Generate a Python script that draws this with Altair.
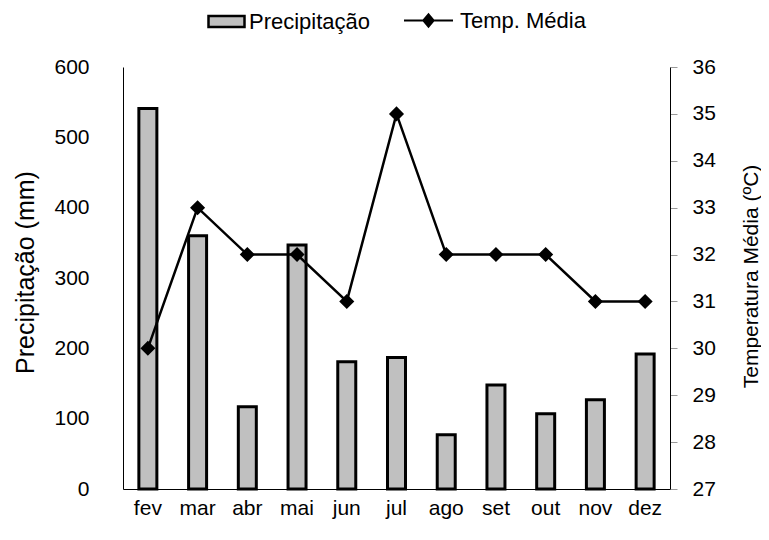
import altair as alt
import pandas as pd

meses = ["fev", "mar", "abr", "mai", "jun", "jul", "ago", "set", "out", "nov", "dez"]
precipitacao = [541, 360, 117, 347, 181, 187, 77, 148, 107, 127, 192]
temperatura = [30, 33, 32, 32, 31, 35, 32, 32, 32, 31, 31]
ticks_prec = [0, 100, 200, 300, 400, 500, 600]
ticks_temp = [27, 28, 29, 30, 31, 32, 33, 34, 35, 36]

df = pd.DataFrame({
    "mes": meses,
    "prec": precipitacao,
    "temp": temperatura,
    "s1": ["Precipitação"] * len(meses),
    "s2": ["Temp. Média"] * len(meses),
})

FONT = "Liberation Sans"
FS = 21

x_enc = alt.X(
    "mes:N", sort=meses, title=None,
    scale=alt.Scale(paddingInner=0, paddingOuter=0),
    axis=alt.Axis(labelAngle=0, ticks=False, domainColor="black", domainWidth=1,
                  labelFontSize=FS, labelPadding=8, labelColor="black"),
)

bars = alt.Chart(df).mark_bar(size=18, stroke="black", strokeWidth=3).encode(
    x=x_enc,
    y=alt.Y(
        "prec:Q",
        scale=alt.Scale(domain=[0, 600], nice=False, zero=True),
        axis=alt.Axis(orient="left", values=ticks_prec, ticks=False, grid=False,
                      domainColor="black", labelFontSize=FS, labelPadding=34,
                      labelColor="black",
                      title="Precipitação (mm)", titleFontSize=25, titleFontWeight="normal",
                      titleColor="black", titleAngle=270, titleBaseline="top",
                      titleAlign="center", titleX=-110, titleY=205),
    ),
    fill=alt.Fill(
        "s1:N",
        scale=alt.Scale(domain=["Precipitação"], range=["#c0c0c0"]),
        legend=alt.Legend(
            title=None, orient="none", legendX=84, legendY=-65,
            symbolType="M-1,-0.3H1V0.3H-1Z", symbolSize=1296,
            symbolStrokeColor="black", symbolStrokeWidth=2.5, symbolFillColor="#c0c0c0",
            labelFontSize=22, labelColor="black", labelFont=FONT, labelOffset=3,
        ),
    ),
)

line = alt.Chart(df).mark_line(
    color="black", strokeWidth=2.5,
    point=alt.OverlayMarkDef(shape="diamond", size=150, filled=True, fill="black", color="black"),
).encode(
    x=x_enc,
    y=alt.Y(
        "temp:Q",
        scale=alt.Scale(domain=[27, 36], nice=False, zero=False),
        axis=alt.Axis(orient="right", values=ticks_temp, tickSize=7, tickColor="#999999",
                      grid=False, domainColor="black", labelFontSize=FS, labelPadding=15,
                      labelColor="black",
                      title="Temperatura Média (ºC)", titleFontSize=FS, titleFontWeight="normal",
                      titleColor="black", titleAngle=270, titleBaseline="top",
                      titleAlign="center", titleX=70, titleY=209),
    ),
    stroke=alt.Stroke(
        "s2:N",
        scale=alt.Scale(domain=["Temp. Média"], range=["black"]),
        legend=alt.Legend(
            title=None, orient="none", legendX=280, legendY=-72,
            symbolType="M-1,0H1M-0.21,0L0,-0.25L0.21,0L0,0.25Z", symbolSize=2401,
            symbolStrokeColor="black", symbolStrokeWidth=2, symbolFillColor="black",
            symbolOpacity=1,
            labelFontSize=22, labelColor="black", labelFont=FONT, labelOffset=6,
        ),
    ),
)

chart = alt.layer(bars, line).resolve_scale(
    y="independent", fill="independent", stroke="independent"
).properties(
    width=547, height=422,
    autosize=alt.AutoSizeParams(type="none"),
    padding={"left": 115, "top": 59, "right": 91, "bottom": 35},
).configure(font=FONT).configure_view(stroke=None).configure_axis(
    labelFont=FONT, titleFont=FONT
).configure_legend(padding=0, labelFont=FONT)

chart.save("out.html", embed_options={"renderer": "svg", "actions": False})
